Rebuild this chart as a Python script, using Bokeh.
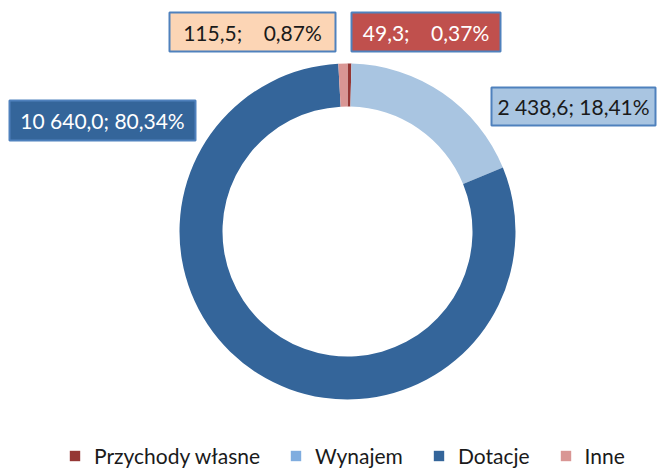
from math import pi
from bokeh.plotting import figure
from bokeh.models import Range1d, Legend, LegendItem, ColumnDataSource
from bokeh.core.properties import value
from bokeh.embed import file_html
from bokeh.resources import INLINE

categories = ["Przychody własne", "Wynajem", "Dotacje", "Inne"]
values = [49.3, 2438.6, 10640.0, 115.5]
percents = [0.37, 18.41, 80.34, 0.87]
labels = ["49,3;\u00a0\u00a0\u00a0 0,37%", "2 438,6; 18,41%", "10 640,0; 80,34%", "115,5;\u00a0\u00a0\u00a0 0,87%"]
slice_colors = ["#953735", "#A9C5E1", "#34659A", "#D99694"]
legend_colors = ["#953735", "#80ADDF", "#34659A", "#D99694"]
box_colors = ["#C0504D", "#A9C5E1", "#34659A", "#FCD5B5"]
text_colors = ["#FFFFFF", "#1A1A1A", "#FFFFFF", "#1A1A1A"]

FONT = "Lato"
W, H = 659, 469

p = figure(width=W, height=H, output_backend="svg", toolbar_location=None,
           x_range=Range1d(0, W), y_range=Range1d(-H, 0),
           min_border=0)
p.axis.visible = False
p.grid.visible = False
p.outline_line_color = None
p.background_fill_color = "white"

# wedges, clockwise from 12 o'clock
total = sum(values)
starts, ends = [], []
cum = 0.0
for v in values:
    starts.append(pi / 2 - 2 * pi * cum / total)
    cum += v
    ends.append(pi / 2 - 2 * pi * cum / total)

cx, cy = 347, -231
src = ColumnDataSource(dict(start=starts, end=ends, color=slice_colors))
p.annular_wedge(x=cx, y=cy, inner_radius=125, outer_radius=168,
                start_angle="start", end_angle="end", direction="clock",
                fill_color="color", line_color=None, source=src)

# label boxes: [Przychody, Wynajem, Dotacje, Inne]
bx = [425.5, 573, 102, 252]
by = [-31.5, -106, -120, -31.5]
bw = [149, 164, 186, 166]
bh = [39, 38, 40, 39]
lsrc = ColumnDataSource(dict(x=bx, y=by, w=bw, h=bh, fill=box_colors,
                             tc=text_colors, txt=labels))
p.rect(x="x", y="y", width="w", height="h", fill_color="fill",
       line_color="#4F81BD", line_width=2, source=lsrc)
p.text(x="x", y="y", text="txt", text_color="tc", text_align="center",
       text_baseline="middle", text_font=value(FONT), text_font_size="21px",
       source=lsrc)

# legend (glyph renderers placed outside the visible range)
items = []
for name, col in zip(categories, legend_colors):
    r = p.rect(x=[-1000], y=[-1000], width=10, height=10,
               fill_color=col, line_color=None)
    items.append(LegendItem(label=name, renderers=[r]))
legend = Legend(items=items, orientation="horizontal", location=(68, 1),
                label_text_font=FONT, label_text_font_size="21px",
                label_text_color="#1A1A1A", glyph_width=13, glyph_height=13,
                spacing=29, label_standoff=13, border_line_color=None,
                background_fill_alpha=0, padding=0, margin=0)
p.add_layout(legend, "center")

open("out.html", "w").write(file_html(p, INLINE))
